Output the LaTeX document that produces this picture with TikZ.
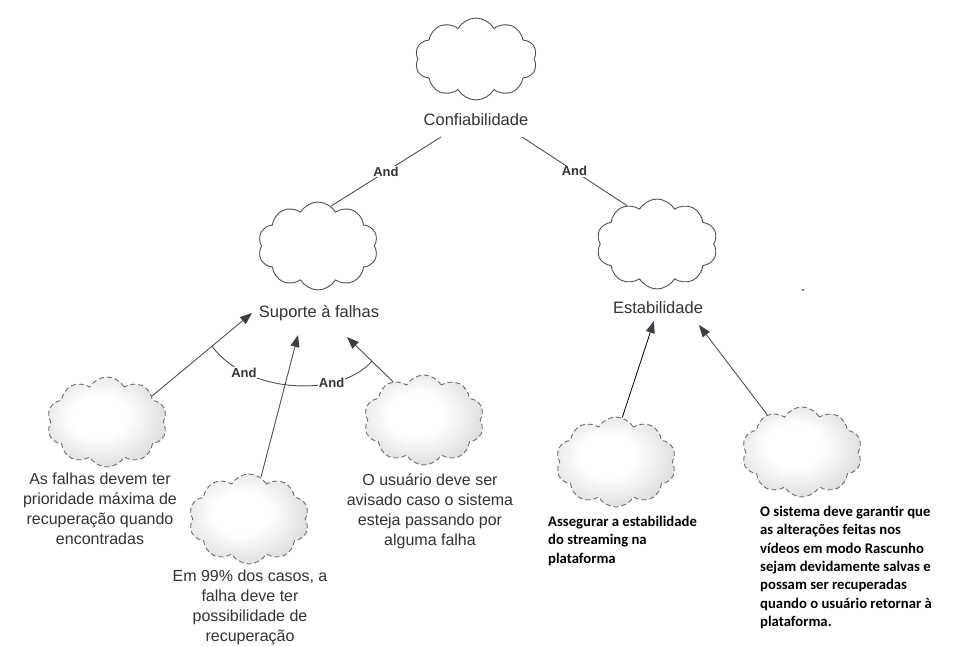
\documentclass[tikz,border=0pt]{standalone}
\usepackage{fontspec}
\setmainfont{Liberation Sans}
\newfontfamily\calfont{Carlito}
\usetikzlibrary{shapes.symbols,arrows.meta,calc}
\definecolor{txt}{HTML}{333333}
\definecolor{lnc}{HTML}{505050}
\definecolor{cloudedge}{RGB}{178,178,178}
\definecolor{headc}{HTML}{3B4048}
\pgfdeclareradialshading{leafshade}{\pgfpoint{-4bp}{4bp}}{color(0bp)=(white); color(12bp)=(white); color(50bp)=(cloudedge); color(75bp)=(cloudedge)}
\begin{document}
\begin{tikzpicture}[x=1pt,y=-1pt,
  plaincloud/.style={cloud, cloud puffs=10, cloud puff arc=120, cloud ignores aspect, draw=lnc, line width=0.9pt, fill=white, minimum width=120pt, minimum height=88pt, inner sep=0pt},
  leafcloud/.style={plaincloud, minimum height=90pt, draw=gray!85!black, dash pattern=on 5pt off 3pt, shading=leafshade},
  titletext/.style={font=\fontsize{16.5}{20}\selectfont, text=txt, inner sep=0pt, anchor=base},
  leaftext/.style={font=\fontsize{16}{20}\selectfont, text=txt, align=center, inner sep=0pt, anchor=north},
  rtext/.style={font=\calfont\bfseries\fontsize{14.7}{18.3}\selectfont, text=black, align=left, inner sep=0pt, anchor=north west},
  andlbl/.style={font=\bfseries\fontsize{13}{15}\selectfont, text=txt, fill=white, inner sep=1pt},
  link/.style={draw=lnc, line width=0.9pt},
  arrowlink/.style={link, -{Triangle[length=12pt,width=9pt,color=headc]}}
]
\useasboundingbox (0,0) rectangle (977,647);
\fill[white] (0,0) rectangle (977,647);

% main clouds and titles
\node[plaincloud, minimum width=122pt, minimum height=82pt] (confC) at (476,59) {};
\node[titletext] (confL) at (476,126) {Confiabilidade};
\node[plaincloud] (supC) at (318,246) {};
\node[titletext] (supL) at (319,317) {Suporte à falhas};
\node[plaincloud, minimum width=121pt, minimum height=90pt] (estC) at (657,244) {};
\node[titletext] (estL) at (658,313) {Estabilidade};

% leaf clouds
\node[leafcloud] (c1) at (107,422) {};
\node[leafcloud] (c2) at (249,519) {};
\node[leafcloud] (c3) at (424,420) {};
\node[leafcloud] (c4) at (616,462) {};
\node[leafcloud] (c5) at (802,452) {};

% leaf texts
\node[leaftext] (t1) at (100,473) {As falhas devem ter\\prioridade máxima de\\recuperação quando\\encontradas};
\node[leaftext] (t2) at (250,570) {Em 99\% dos casos, a\\falha deve ter\\possibilidade de\\recuperação};
\node[leaftext] (t3) at (430,474) {O usuário deve ser\\avisado caso o sistema\\esteja passando por\\alguma falha};
\node[rtext] (t4) at (548,516) {Assegurar a estabilidade\\do streaming na\\plataforma};
\node[rtext] (t5) at (760,506) {O sistema deve garantir que\\as alterações feitas nos\\vídeos em modo Rascunho\\sejam devidamente salvas e\\possam ser recuperadas\\quando o usuário retornar à\\plataforma.};

% top decomposition
\draw[link] ($(confL.base)+(-35,11)$) -- node[andlbl] {And} (supC.72);
\draw[link] ($(confL.base)+(46,11)$) -- node[andlbl] {And} (estC.128);

% contributions to Suporte
\draw[arrowlink] (c1.30) -- coordinate[pos=0.6] (a1) ($(supL.base)+(-67,-4)$);
\draw[arrowlink] (c2.74) -- ($(supL.base)+(-21,18)$);
\draw[arrowlink] (c3.129) -- coordinate[pos=0.46] (a3) ($(supL.base)+(28,20)$);
\draw[link] (a1) .. controls ($(a1)+(35,48)$) and ($(a3)+(-32,37)$) .. (a3)
  node[andlbl,pos=0.23] {And}
  node[andlbl,pos=0.71] {And};

% contributions to Estabilidade
\draw[line width=0.8pt, black, -{Triangle[length=12pt,width=9pt,color=headc]}] (c4.82) -- ($(estL.base)+(-4,8)$);
\draw[arrowlink] (c5.133.5) -- ($(estL.base)+(41,12)$);

\fill[black] (803,290) circle (0.8);
\end{tikzpicture}
\end{document}
